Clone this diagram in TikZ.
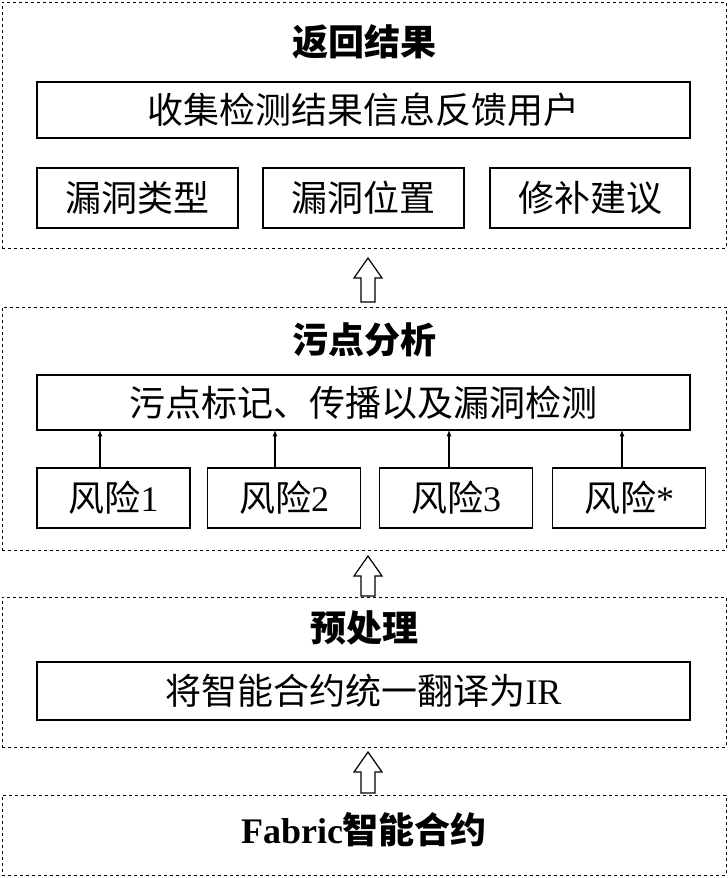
\documentclass[tikz,border=0pt]{standalone}
\usepackage{fontspec}
\setmainfont{Liberation Serif}
\newfontfamily\cjk{Noto Sans CJK SC}
\begin{document}
\begin{tikzpicture}[x=1pt,y=-1pt,
  outer/.style={draw,dashed,line width=1pt},
  inbox/.style={draw,line width=1.2pt,font=\fontsize{36}{40}\selectfont,inner sep=0pt},
  ttl/.style={font=\fontsize{36}{40}\selectfont\bfseries},
  sm/.style={draw,line width=1.2pt,minimum width=153pt,minimum height=60pt,font=\fontsize{36}{40}\selectfont,inner sep=0pt},
  hollow/.style={draw,line width=1.2pt,fill=white}]
\useasboundingbox (0,0) rectangle (728,878);
\newcommand{\harrow}[3]{\draw[hollow] (#1-7,#3) -- (#1-7,#2+20) -- (#1-14,#2+20) -- (#1,#2) -- (#1+14,#2+20) -- (#1+7,#2+20) -- (#1+7,#3) -- cycle;}
% box 1
\node[outer,minimum width=724pt,minimum height=246pt] (o1) at (364,125) {};
\node[ttl] (t1) at (364,42) {\cjk 返回结果};
\node[inbox,minimum width=653pt,minimum height=56pt] (b1) at (363.5,110) {\cjk 收集检测结果信息反馈用户};
\node[inbox,minimum width=201pt,minimum height=60pt] (c1) at (137.5,198) {\cjk 漏洞类型};
\node[inbox,minimum width=201pt,minimum height=60pt] (c2) at (363.5,198) {\cjk 漏洞位置};
\node[inbox,minimum width=200pt,minimum height=60pt] (c3) at (590,198) {\cjk 修补建议};
\harrow{368}{258}{302}
% box 2
\node[outer,minimum width=724pt,minimum height=243pt] (o2) at (364,428.5) {};
\node[ttl] (t2) at (364,340) {\cjk 污点分析};
\node[inbox,minimum width=653pt,minimum height=55pt] (b2) at (363.5,402.5) {\cjk 污点标记、传播以及漏洞检测};
\node[sm] (r1) at (113.5,498) {\cjk 风险\rmfamily 1};
\node[sm] (r2) at (284,498) {\cjk 风险\rmfamily 2};
\node[sm] (r3) at (456,498) {\cjk 风险\rmfamily 3};
\node[sm] (r4) at (629,498) {\cjk 风险\rmfamily *};
\foreach \r/\x in {r1/100,r2/275,r3/449,r4/622}
  \draw[-latex,line width=1.2pt] (\x,468) -- (\x,430);
\harrow{368}{556}{596}
% box 3
\node[outer,minimum width=724pt,minimum height=150pt] (o3) at (364,672) {};
\node[ttl] (t3) at (364,628) {\cjk 预处理};
\node[inbox,minimum width=653pt,minimum height=58pt] (b3) at (363.5,691) {\cjk 将智能合约统一翻译为\rmfamily IR};
\harrow{368}{752}{793}
% box 4
\node[outer,minimum width=724pt,minimum height=80pt] (o4) at (364,835) {};
\node[ttl] (t4) at (364,830) {Fabric\cjk 智能合约};
\end{tikzpicture}
\end{document}
